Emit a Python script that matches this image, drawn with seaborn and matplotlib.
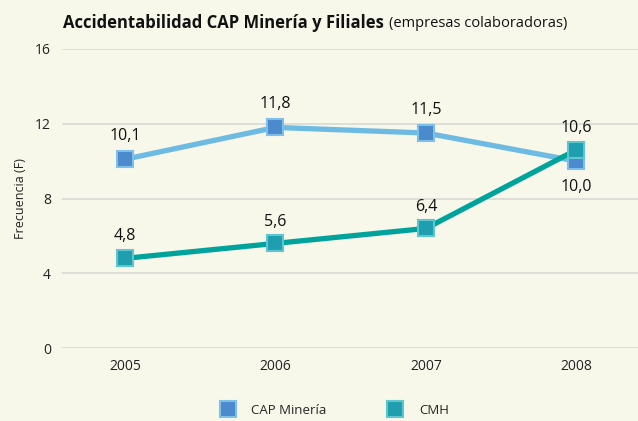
import matplotlib
matplotlib.use("Agg")
import matplotlib.pyplot as plt
import seaborn as sns
import pandas as pd
from matplotlib.lines import Line2D

years = [2005, 2006, 2007, 2008]
cap = [10.1, 11.8, 11.5, 10.0]
cmh = [4.8, 5.6, 6.4, 10.6]
cap_labels = ["10,1", "11,8", "11,5", "10,0"]
cmh_labels = ["4,8", "5,6", "6,4", "10,6"]
yticks = [0, 4, 8, 12, 16]

bg = "#F7F7EA"
cap_line = "#6DBAE3"
cap_mark = "#4A8ACD"
cmh_line = "#00A39C"
cmh_mark = "#1E9EAE"

sns.set_theme(style="white")
plt.rcParams["font.family"] = ["Open Sans", "DejaVu Sans"]

fig = plt.figure(figsize=(6.38, 4.21), dpi=100, facecolor=bg)
ax = fig.add_axes([0.097, 0.173, 0.903, 0.711], facecolor=bg)

df_cap = pd.DataFrame({"year": years, "val": cap})
df_cmh = pd.DataFrame({"year": years, "val": cmh})

sns.lineplot(data=df_cap, x="year", y="val", ax=ax, color=cap_line, lw=3.8,
             marker="s", markersize=12, markerfacecolor=cap_mark,
             markeredgecolor="#7FC0EA", markeredgewidth=1.5, zorder=3)
sns.lineplot(data=df_cmh, x="year", y="val", ax=ax, color=cmh_line, lw=3.8,
             marker="s", markersize=12, markerfacecolor=cmh_mark,
             markeredgecolor="#5FC6CF", markeredgewidth=1.5, zorder=4)

ax.set_xlim(2004.58, 2008.41)
ax.set_ylim(0, 16)
ax.set_yticks(yticks)
ax.set_yticklabels([str(t) for t in yticks], fontsize=10)
ax.set_xticks(years)
ax.set_xticklabels([str(y) for y in years], fontsize=10)
ax.tick_params(axis="both", length=0, pad=8, colors="#222222")
ax.grid(axis="y", color="#DCDCD8", lw=1.3)
ax.grid(axis="x", visible=False)
for s in ax.spines.values():
    s.set_visible(False)
ax.set_xlabel("")
ax.set_ylabel("Frecuencia (F)", fontsize=9, labelpad=6, color="#222222")

for i, (x, v, t) in enumerate(zip(years, cap, cap_labels)):
    off = 11 if i < 3 else -13
    ax.annotate(t, (x, v), xytext=(0, off), textcoords="offset points",
                ha="center", va="bottom" if off > 0 else "top", fontsize=11.5, color="#111111")
for x, v, t in zip(years, cmh, cmh_labels):
    ax.annotate(t, (x, v), xytext=(0, 10), textcoords="offset points",
                ha="center", va="bottom", fontsize=11.5, color="#111111")

t1 = fig.text(0.099, 0.945, "Accidentabilidad CAP Minería y Filiales", fontsize=12,
              fontweight="bold", ha="left", va="center", color="#111111")
fig.canvas.draw()
bb = t1.get_window_extent(renderer=fig.canvas.get_renderer())
x2 = (bb.x1 + 5) / fig.bbox.width
fig.text(x2, 0.945, "(empresas colaboradoras)", fontsize=10.5, ha="left",
         va="center", color="#111111")

handles = [
    Line2D([], [], ls="none", marker="s", markersize=12, markerfacecolor=cap_mark,
           markeredgecolor="#7FC0EA", markeredgewidth=1.5, label="CAP Minería"),
    Line2D([], [], ls="none", marker="s", markersize=12, markerfacecolor=cmh_mark,
           markeredgecolor="#5FC6CF", markeredgewidth=1.5, label="CMH"),
]
fig.legend(handles=handles, loc="center", bbox_to_anchor=(0.52, 0.025), ncol=2,
           frameon=False, fontsize=9.5, columnspacing=4.2, handletextpad=0.8)

fig.savefig("out.png", dpi=100, facecolor=bg)
